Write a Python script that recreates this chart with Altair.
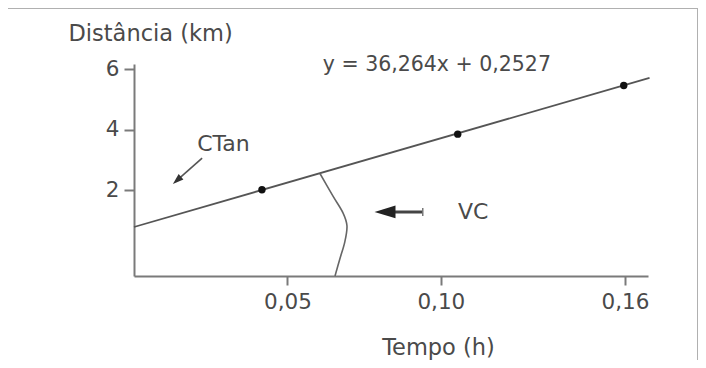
import altair as alt
import pandas as pd

# ---- data ----
pts_t = [0.0417, 0.1055, 0.1596]
pts_d = [2.02, 3.86, 5.47]

line_t = [0.0, 0.168]
line_d = [0.79, 5.72]

vc_t = [0.0606, 0.0648, 0.0681, 0.0694, 0.0687, 0.0671, 0.0655]
vc_d = [2.56, 1.82, 1.26, 0.83, 0.30, -0.26, -0.83]

x_ticks = [0.05, 0.10, 0.16]
y_ticks = [2, 4, 6]

labels = ["y = 36,264x + 0,2527", "CTan", "VC"]
label_t = [0.0987, 0.0206, 0.1056]
label_d = [6.15, 3.54, 1.29]

# arrows: tail -> head
ctan_arrow_t = [0.0222, 0.0140]
ctan_arrow_d = [3.07, 2.33]
vc_arrow_t = [0.0941, 0.0815]
vc_arrow_d = [1.29, 1.29]
vc_head_t = [0.0818]

FONT = "DejaVu Sans"
TXT = "#4a4a4a"
AX = "#7a7a7a"

xs = alt.Scale(domain=[0, 0.1675], nice=False, zero=False)
ys = alt.Scale(domain=[-0.83, 6.18], nice=False, zero=False)

xaxis = alt.Axis(values=x_ticks, labelExpr="replace(format(datum.value, '.2f'), '.', ',')",
                 title="Tempo (h)", titleX=304, titleY=71, titleBaseline="middle",
                 titleAlign="center", grid=False, tickSize=9, labelPadding=6)
yaxis = alt.Axis(values=y_ticks, format="d", title="Distância (km)", titleAngle=0,
                 titleX=-66, titleY=-31, titleAlign="left", titleBaseline="middle",
                 grid=False, tickSize=10, labelPadding=5)

base_line = alt.Chart(pd.DataFrame({"t": line_t, "d": line_d})).mark_line(
    color="#555555", strokeWidth=1.8).encode(
    x=alt.X("t:Q", scale=xs, axis=xaxis), y=alt.Y("d:Q", scale=ys, axis=yaxis))

points = alt.Chart(pd.DataFrame({"t": pts_t, "d": pts_d})).mark_point(
    filled=True, color="#111111", size=55, opacity=1).encode(
    x=alt.X("t:Q", scale=xs), y=alt.Y("d:Q", scale=ys))

vc_curve = alt.Chart(pd.DataFrame({"t": vc_t, "d": vc_d, "o": list(range(len(vc_t)))})).mark_line(
    color="#666666", strokeWidth=1.6, interpolate="cardinal").encode(
    x=alt.X("t:Q", scale=xs), y=alt.Y("d:Q", scale=ys), order="o:O")

eq_text = alt.Chart(pd.DataFrame({"t": label_t[:1], "d": label_d[:1], "s": labels[:1]})).mark_text(
    font=FONT, fontSize=20.5, color=TXT, baseline="middle", align="center").encode(
    x=alt.X("t:Q", scale=xs), y=alt.Y("d:Q", scale=ys), text="s:N")
other_text = alt.Chart(pd.DataFrame({"t": label_t[1:], "d": label_d[1:], "s": labels[1:]})).mark_text(
    font=FONT, fontSize=22, color=TXT, baseline="middle", align="left").encode(
    x=alt.X("t:Q", scale=xs), y=alt.Y("d:Q", scale=ys), text="s:N")

ctan_line = alt.Chart(pd.DataFrame({"t": ctan_arrow_t, "d": ctan_arrow_d})).mark_line(
    color="#555555", strokeWidth=1.6).encode(
    x=alt.X("t:Q", scale=xs), y=alt.Y("d:Q", scale=ys))
ctan_head = alt.Chart(pd.DataFrame({"t": ctan_arrow_t[1:], "d": ctan_arrow_d[1:]})).mark_point(
    shape="M0,-1L0.65,1L-0.65,1Z", filled=True, color="#333333", size=120, angle=228, opacity=1).encode(
    x=alt.X("t:Q", scale=xs), y=alt.Y("d:Q", scale=ys))

vc_line = alt.Chart(pd.DataFrame({"t": vc_arrow_t[:1], "t2": vc_arrow_t[1:], "d": vc_arrow_d[:1]})).mark_rule(
    color="#444444", strokeWidth=3).encode(
    x=alt.X("t:Q", scale=xs), x2="t2:Q", y=alt.Y("d:Q", scale=ys))
vc_tail = alt.Chart(pd.DataFrame({"t": vc_arrow_t[:1], "d": vc_arrow_d[:1]})).mark_point(
    shape="M0,-1L0,1", filled=False, color="#777777", size=64, strokeWidth=1.5, opacity=1).encode(
    x=alt.X("t:Q", scale=xs), y=alt.Y("d:Q", scale=ys))
vc_head = alt.Chart(pd.DataFrame({"t": vc_head_t, "d": vc_arrow_d[:1]})).mark_point(
    shape="M0,-1L0.6,1L-0.6,1Z", filled=True, color="#222222", size=440, angle=270, opacity=1).encode(
    x=alt.X("t:Q", scale=xs), y=alt.Y("d:Q", scale=ys))

frame = pd.DataFrame({"k": [0]})
frame_top = alt.Chart(frame).mark_rule(color="#b0b0b0", strokeWidth=1).encode(
    x=alt.value(-134), x2=alt.value(563.5), y=alt.value(-55.5))
frame_right = alt.Chart(frame).mark_rule(color="#b0b0b0", strokeWidth=1).encode(
    x=alt.value(563.5), y=alt.value(-56), y2=alt.value(304))

chart = alt.layer(
    base_line, vc_curve, points, eq_text, other_text, ctan_line, ctan_head,
    vc_line, vc_tail, vc_head, frame_top, frame_right
).properties(
    width=514, height=212,
    autosize=alt.AutoSizeParams(type="none"),
    padding={"left": 126, "top": 56, "right": 50, "bottom": 84},
    background="white",
).configure_view(stroke=None).configure_axis(
    domainColor=AX, domainWidth=2, tickColor=AX, tickWidth=2,
    labelFont=FONT, labelFontSize=21.5, labelColor=TXT,
    titleFont=FONT, titleFontSize=22.5, titleColor=TXT, titleFontWeight="normal",
)

chart.save("out.html", embed_options={"renderer": "svg", "actions": False})
